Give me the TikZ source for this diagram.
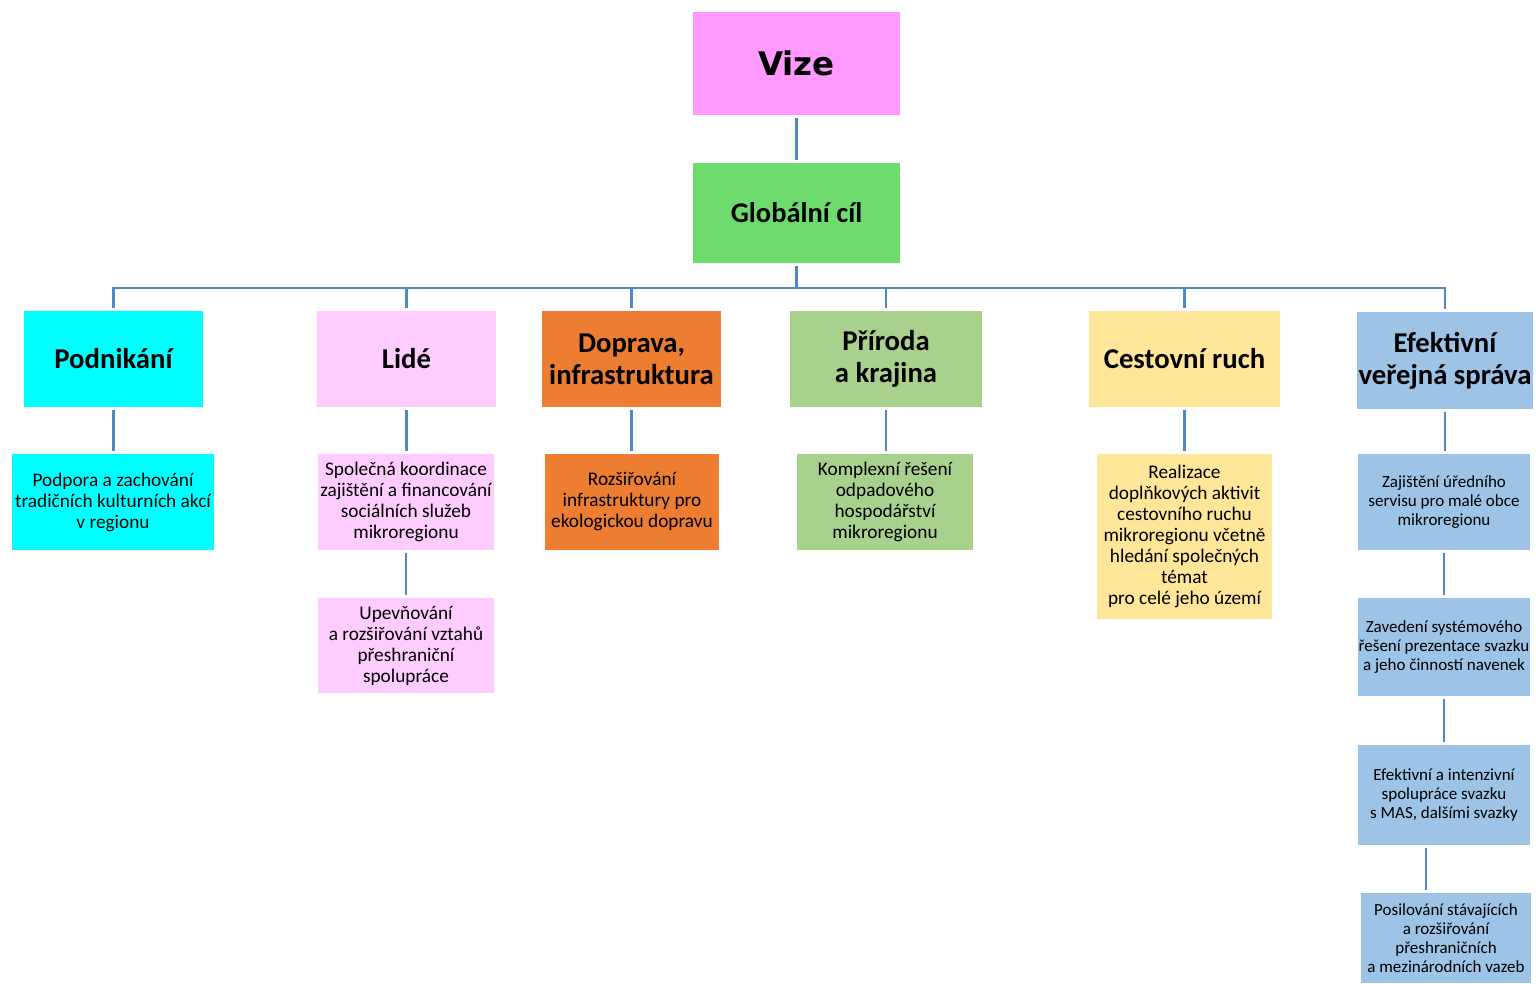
\documentclass[tikz,border=0pt]{standalone}
\usepackage{fontspec}
\setmainfont{Carlito}
\newfontfamily\vizefont{DejaVu Sans}
\usetikzlibrary{calc}
\definecolor{vizecol}{HTML}{FF99FF}
\definecolor{goalcol}{HTML}{6DDB6D}
\definecolor{cyancol}{HTML}{00FFFF}
\definecolor{pinkcol}{HTML}{FFCCFF}
\definecolor{orangecol}{HTML}{ED7D31}
\definecolor{greencol}{HTML}{A9D18E}
\definecolor{yellowcol}{HTML}{FFE699}
\definecolor{bluecol}{HTML}{9DC3E6}
\definecolor{linecol}{HTML}{5088C4}
\tikzset{
  % Connector
  link/.style={draw=linecol, line width=2.5pt, shorten <=3pt,
    shorten >=3pt},
  % Box size
  sz/.style 2 args={minimum width=#1, minimum height=#2},
  % General box
  box/.style={shape=rectangle, inner sep=0pt, align=center},
  % Category box
  cbox/.style={box, font=\bfseries\fontsize{28.7}{32}\selectfont},
  % Goal box
  gbox/.style={box, font=\fontsize{19.3}{21}\selectfont},
  % Small goal box
  sbox/.style={box, font=\fontsize{17}{19}\selectfont},
}
\begin{document}
\begin{tikzpicture}[x=1pt, y=-1pt]
  \useasboundingbox (0,0) rectangle (1536,983);

  \node[box, sz={207}{103}, fill=vizecol,
    font=\vizefont\bfseries\fontsize{32.5}{36}\selectfont]
    (vize) at (796.5,63.5) {Vize};
  \node[box, sz={207}{100}, fill=goalcol,
    font=\bfseries\fontsize{28.5}{30}\selectfont]
    (global) at (796.5,213) {Globální cíl};

  % categories
  \node[cbox, sz={179}{96}, fill=cyancol] (podn) at (113.5,359) {Podnikání};
  \node[cbox, sz={179}{96}, fill=pinkcol] (lide) at (406.5,359) {Lidé};
  \node[cbox, sz={179}{96}, fill=orangecol] (doprava) at (631.5,359)
    {Doprava,\\infrastruktura};
  \node[cbox, sz={192}{96}, fill=greencol] (priroda) at (886,359)
    {Příroda\\a krajina};
  \node[cbox, sz={191}{96}, fill=yellowcol] (cestov) at (1184.5,359)
    {Cestovní ruch};
  \node[cbox, sz={176}{97}, fill=bluecol] (sprava) at (1445,360.5)
    {Efektivní\\veřejná správa};

  % goals
  \node[gbox, sz={202}{96}, fill=cyancol] (podpora) at (113,502)
    {Podpora a zachování\\tradičních kulturních akcí\\v regionu};
  \node[gbox, sz={176}{96}, fill=pinkcol] (koord) at (406,502)
    {Společná koordinace\\zajištění a financování\\sociálních služeb\\mikroregionu};
  \node[gbox, sz={176}{95}, fill=pinkcol] (upevn) at (406,645.5)
    {Upevňování\\a rozšiřování vztahů\\přeshraniční\\spolupráce};
  \node[gbox, sz={174}{96}, fill=orangecol] (rozsir) at (632,502)
    {Rozšiřování\\infrastruktury pro\\ekologickou dopravu};
  \node[gbox, sz={176}{96}, fill=greencol] (odpad) at (885,502)
    {Komplexní řešení\\odpadového\\hospodářství\\mikroregionu};
  \node[gbox, sz={175}{165}, fill=yellowcol] (realiz) at (1184.5,536.5)
    {Realizace\\doplňkových aktivit\\cestovního ruchu\\mikroregionu včetně\\hledání společných\\témat\\pro celé jeho území};
  \node[sbox, sz={172}{96}, fill=bluecol] (servis) at (1444,502)
    {Zajištění úředního\\servisu pro malé obce\\mikroregionu};
  \node[sbox, sz={172}{98}, fill=bluecol] (prezent) at (1444,647)
    {Zavedení systémového\\řešení prezentace svazku\\a jeho činností navenek};
  \node[sbox, sz={172}{100}, fill=bluecol] (mas) at (1444,795)
    {Efektivní a intenzivní\\spolupráce svazku\\s MAS, dalšími svazky};
  \node[sbox, sz={170}{90}, fill=bluecol] (vazby) at (1446,938)
    {Posilování stávajících\\a rozšiřování\\přeshraničních\\a mezinárodních vazeb};

  \coordinate (bus) at (796.5,288);

  \draw[link] (vize) -- (global);
  \foreach \n in {podn, lide, doprava, priroda, cestov, sprava}
    \draw[link] (global.south) |- (\n.north |- bus) -- (\n.north);

  \draw[link] (podn.south) -- (podn.south |- podpora.north);
  \draw[link] (lide.south) -- (lide.south |- koord.north);
  \draw[link] (koord.south) -- (koord.south |- upevn.north);
  \draw[link] (doprava.south) -- (doprava.south |- rozsir.north);
  \draw[link] (priroda.south) -- (priroda.south |- odpad.north);
  \draw[link] (cestov.south) -- (cestov.south |- realiz.north);
  \draw[link] (sprava.south) -- (sprava.south |- servis.north);
  \draw[link] (servis.south) -- (servis.south |- prezent.north);
  \draw[link] (prezent.south) -- (prezent.south |- mas.north);
  \draw[link] ([xshift=-18pt]mas.south) -- ([xshift=-18pt]mas.south |- vazby.north);
\end{tikzpicture}
\end{document}
